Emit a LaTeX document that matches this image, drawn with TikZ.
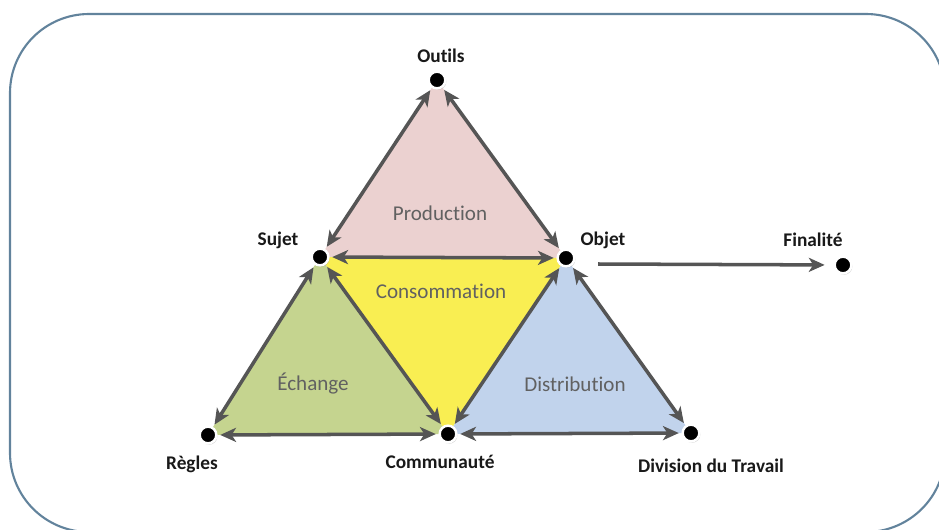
\documentclass[tikz,border=0pt]{standalone}
\usepackage{fontspec}
\setmainfont{Carlito}[Ligatures=NoCommon]
\usepackage{tikz}
\usetikzlibrary{arrows.meta,positioning,shadows}

\definecolor{cadre}{HTML}{62839C}
\definecolor{fleche}{HTML}{555555}
\definecolor{rose}{HTML}{EBD1D0}
\definecolor{jaune}{HTML}{F9EE52}
\definecolor{vert}{HTML}{C5D48F}
\definecolor{bleu}{HTML}{C1D3EC}

\begin{document}
\begin{tikzpicture}[x=0.02cm, y=-0.02cm,
  pole/.style={circle, fill=black, draw=white, line width=1.4pt, minimum size=9.5pt, inner sep=0pt,
    drop shadow={opacity=.35, shadow xshift=.6pt, shadow yshift=-.8pt}},
  nom/.style={font=\fontsize{11}{13}\selectfont\bfseries, text=black!90, inner sep=1pt},
  zone/.style={font=\fontsize{12}{14}\selectfont, text=black!62},
  lien/.style={draw=fleche, line width=2pt, {Stealth[length=9pt, width=8pt, inset=2.5pt]}-{Stealth[length=9pt, width=8pt, inset=2.5pt]}, shorten <=1.5pt, shorten >=1.5pt}]
  \useasboundingbox (0,0) rectangle (939,530);
  \draw[cadre, line width=1.2pt, rounded corners=45pt] (10,14) rectangle (945,532);

  % les poles
  \coordinate (outils) at (437,80);
  \coordinate (sujet) at (320,257);
  \coordinate (objet) at (566,258);
  \coordinate (regles) at (208,435);
  \coordinate (communaute) at (448,434);
  \coordinate (division) at (691,433);
  \coordinate (finalite) at (843,265);

  % les zones
  \fill[rose] (outils) -- (sujet) -- (objet) -- cycle;
  \fill[jaune] (sujet) -- (objet) -- (communaute) -- cycle;
  \fill[vert] (sujet) -- (regles) -- (communaute) -- cycle;
  \fill[bleu] (objet) -- (communaute) -- (division) -- cycle;

  \node[pole] (p-outils) at (outils) {};
  \node[pole] (p-sujet) at (sujet) {};
  \node[pole] (p-objet) at (objet) {};
  \node[pole] (p-regles) at (regles) {};
  \node[pole] (p-communaute) at (communaute) {};
  \node[pole] (p-division) at (division) {};
  \node[pole] (p-finalite) at (finalite) {};

  \draw[lien] (p-outils) -- (p-sujet);
  \draw[lien] (p-outils) -- (p-objet);
  \draw[lien] (p-sujet) -- (p-objet);
  \draw[lien] (p-sujet) -- (p-regles);
  \draw[lien] (p-sujet) -- (p-communaute);
  \draw[lien] (p-objet) -- (p-communaute);
  \draw[lien] (p-objet) -- (p-division);
  \draw[lien] (p-regles) -- (p-communaute);
  \draw[lien] (p-communaute) -- (p-division);
  \coordinate (depart) at (598,264);
  \draw[draw=fleche, line width=2pt, -{Stealth[length=9pt, width=8pt, inset=2.5pt]}, shorten >=5pt] (depart) -- (p-finalite);

  % les noms
  \node[nom] (t-outils) at (441,56) {Outils};
  \node[nom] (t-sujet) at (278,240) {Sujet};
  \node[nom] (t-objet) at (603,240) {Objet};
  \node[nom] (t-finalite) at (813,240) {Finalité};
  \node[nom] (t-regles) at (192,464) {Règles};
  \node[nom] (t-communaute) at (440,462) {Communauté};
  \node[nom] (t-division) at (711,466) {Division du Travail};

  \node[zone] (z-production) at (440,213) {Production};
  \node[zone] (z-consommation) at (441,291) {Consommation};
  \node[zone] (z-echange) at (313,384) {Échange};
  \node[zone] (z-distribution) at (575,384) {Distribution};
\end{tikzpicture}
\end{document}
